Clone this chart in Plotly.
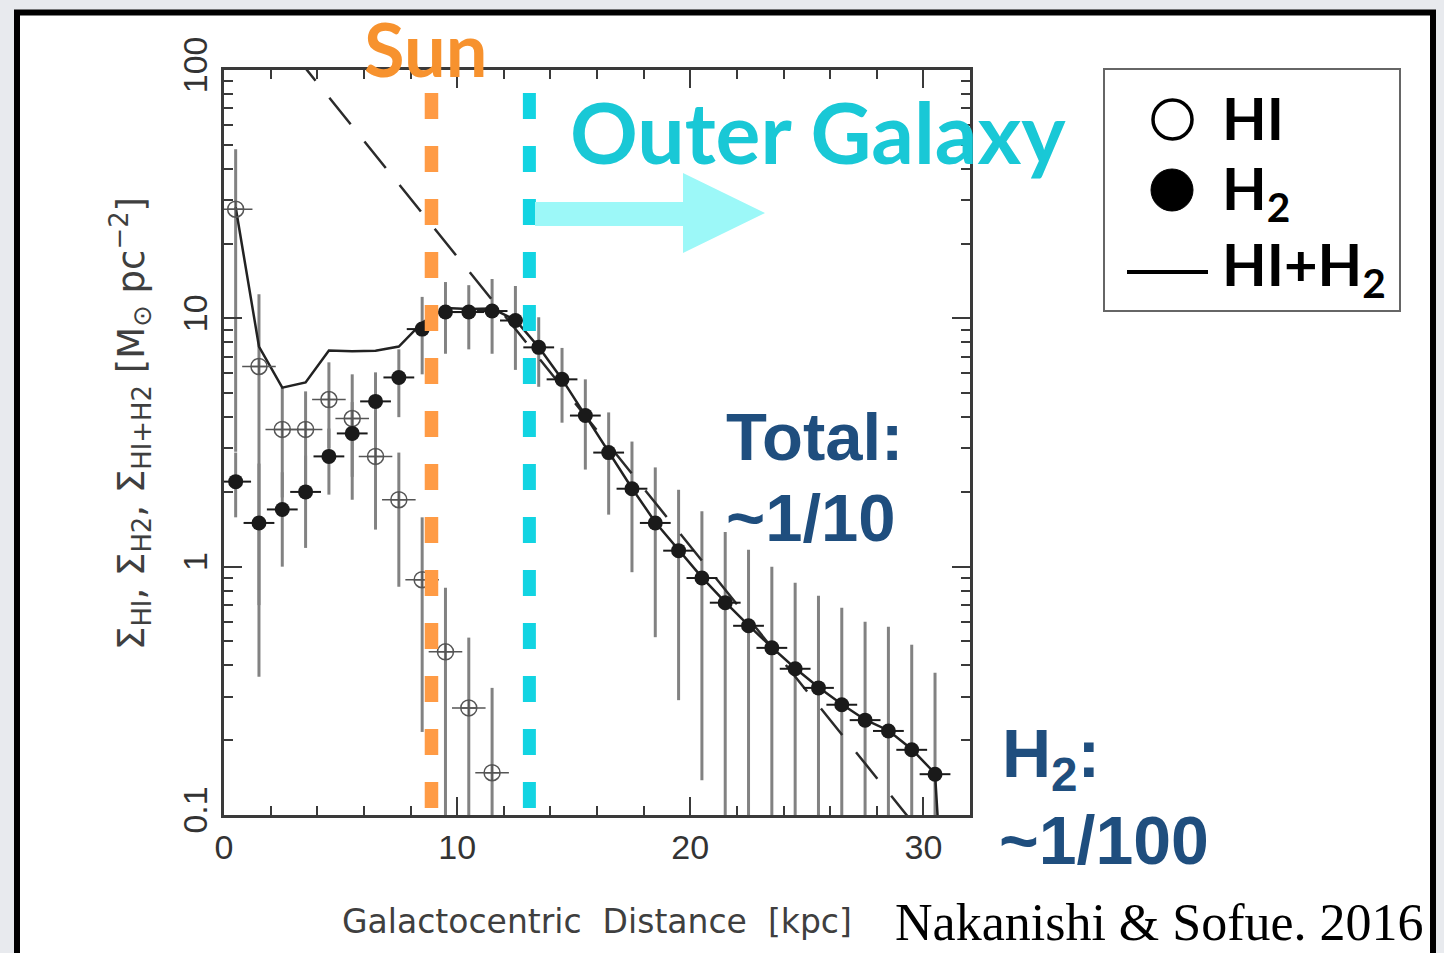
import plotly.graph_objects as go

# ---- radial profiles of gas surface density (Milky Way) ----
r_h2 = [0.5, 1.5, 2.5, 3.5, 4.5, 5.5, 6.5, 7.5, 8.5, 9.5, 10.5, 11.5, 12.5, 13.5, 14.5, 15.5,
        16.5, 17.5, 18.5, 19.5, 20.5, 21.5, 22.5, 23.5, 24.5, 25.5, 26.5, 27.5, 28.5, 29.5, 30.5]
sigma_h2 = [2.2, 1.5, 1.7, 2.0, 2.78, 3.44, 4.63, 5.78, 9.05, 10.6, 10.6, 10.7, 9.8, 7.64, 5.68, 4.06,
            2.88, 2.06, 1.50, 1.16, 0.90, 0.716, 0.578, 0.471, 0.388, 0.325, 0.278, 0.241, 0.218, 0.183, 0.146]
h2_lo = [1.58, 0.70, 1.0, 1.19, 1.95, 1.86, 3.2, 4.0, 5.95, 7.2, 7.5, 7.2, 6.2, 5.3, 3.8, 2.46,
         1.62, 0.95, 0.52, 0.29, 0.138, 0.05, 0.05, 0.05, 0.05, 0.05, 0.05, 0.05, 0.05, 0.05, 0.05]
h2_hi = [2.88, 2.6, 2.4, 2.8, 3.6, 4.6, 6.06, 7.5, 12.2, 14.0, 13.6, 14.4, 13.5, 10.1, 7.6, 5.68,
         4.18, 3.19, 2.51, 2.04, 1.67, 1.38, 1.17, 1.0, 0.862, 0.764, 0.683, 0.60, 0.573, 0.485, 0.374]

r_hi = [0.5, 1.5, 2.5, 3.5, 4.5, 5.5, 6.5, 7.5, 8.5, 9.5, 10.5, 11.5]
sigma_hi = [27.5, 6.4, 3.57, 3.57, 4.71, 3.95, 2.78, 1.86, 0.886, 0.454, 0.27, 0.148]
hi_lo = [2.9, 0.36, 1.9, 2.0, 3.0, 2.3, 1.41, 0.83, 0.216, 0.05, 0.05, 0.05]
hi_hi = [48.0, 12.5, 5.27, 5.08, 6.65, 5.95, 4.2, 2.88, 1.58, 0.823, 0.518, 0.325]

r_total = [0.5, 1.5, 2.5, 3.5, 4.5, 5.5, 6.5, 7.5, 8.5, 9.5, 10.5, 11.5, 12.5, 13.5, 14.5, 15.5,
           16.5, 17.5, 18.5, 19.5, 20.5, 21.5, 22.5, 23.5, 24.5, 25.5, 26.5, 27.5, 28.5, 29.5, 30.5, 30.75]
sigma_total = [28.0, 7.7, 5.26, 5.52, 7.42, 7.37, 7.4, 7.7, 9.6, 11.0, 10.9, 10.95, 9.85, 7.66, 5.69, 4.07,
               2.89, 2.07, 1.51, 1.17, 0.905, 0.72, 0.58, 0.473, 0.39, 0.327, 0.279, 0.242, 0.219, 0.184, 0.147, 0.06]

# exponential disk fit (straight in log space), given by its end points
r_fit = [0.0, 31.0]
sigma_fit = [260.0, 0.063]

x_ticks = [0, 10, 20, 30]
x_minor = [2, 4, 6, 8, 12, 14, 16, 18, 22, 24, 26, 28, 32]
y_ticks = [0.1, 1, 10, 100]
y_ticktext = ["0.1", "1", "10", "100"]
y_minor = [m * d for d in (0.1, 1, 10) for m in range(2, 10)]

r_sun = 8.9
r_outer = 13.1

# ---- page geometry (pixels) ----
W, H = 1444, 953
PL, PR, PT, PB = 224, 970, 70, 815


def px(x):
    return (x - PL) / (PR - PL)


def py(y):
    return (PB - y) / (PB - PT)


def bars(xs, lo, hi):
    bx, by = [], []
    for x, a, b in zip(xs, lo, hi):
        bx += [x, x, None]
        by += [a, b, None]
    return bx, by


fig = go.Figure()

ebx, eby = bars(r_hi + r_h2, hi_lo + h2_lo, hi_hi + h2_hi)
fig.add_trace(go.Scatter(x=ebx, y=eby, mode="lines",
                         line=dict(color="#828282", width=3), hoverinfo="skip"))

fig.add_trace(go.Scatter(x=r_fit, y=sigma_fit, mode="lines",
                         line=dict(color="#2b2b2b", width=2.5, dash="34px,22px")))

fig.add_trace(go.Scatter(x=r_total, y=sigma_total, mode="lines",
                         line=dict(color="#222222", width=2.5)))

# HI: open circles with a cross
fig.add_trace(go.Scatter(x=r_hi, y=sigma_hi, mode="markers",
                         marker=dict(symbol="line-ew", size=24, color="#555555",
                                     line=dict(color="#555555", width=1.5))))
fig.add_trace(go.Scatter(x=r_hi, y=sigma_hi, mode="markers",
                         marker=dict(symbol="circle-cross-open", size=16, color="#555555",
                                     line=dict(color="#555555", width=1.5))))

# H2: filled circles
fig.add_trace(go.Scatter(x=r_h2, y=sigma_h2, mode="markers",
                         marker=dict(symbol="line-ew", size=22, color="#1a1a1a",
                                     line=dict(color="#1a1a1a", width=2))))
fig.add_trace(go.Scatter(x=r_h2, y=sigma_h2, mode="markers",
                         marker=dict(symbol="circle", size=15, color="#1a1a1a",
                                     line=dict(width=0))))

axis_common = dict(showline=True, linecolor="#3a3a3a", linewidth=3, mirror="allticks",
                   ticks="inside", ticklen=18, tickwidth=2, tickcolor="#3a3a3a",
                   showgrid=False, zeroline=False,
                   tickfont=dict(family="Liberation Sans", size=34, color="#333333"))

fig.update_xaxes(range=[0, 32], tickmode="array", tickvals=x_ticks,
                 minor=dict(tickmode="array", tickvals=x_minor, ticks="inside",
                            ticklen=9, tickwidth=2, tickcolor="#3a3a3a", showgrid=False),
                 **axis_common)
fig.update_yaxes(type="log", range=[-1, 2], tickmode="array", tickvals=y_ticks,
                 ticktext=y_ticktext, tickangle=-90,
                 minor=dict(tickmode="array", tickvals=y_minor, ticks="inside",
                            ticklen=9, tickwidth=2, tickcolor="#3a3a3a", showgrid=False),
                 **axis_common)

shapes = [
    # slide frame
    dict(type="rect", xref="paper", yref="paper", x0=px(17), x1=px(1433), y0=py(H + 20), y1=py(12.5),
         line=dict(color="black", width=6), fillcolor="white", layer="below"),
    # Sun and outer-galaxy boundaries
    dict(type="line", xref="x", yref="paper", x0=r_sun, x1=r_sun, y0=py(93), y1=py(815),
         line=dict(color="#ff9b45", width=13.5, dash="26px,27px"), layer="above"),
    dict(type="line", xref="x", yref="paper", x0=r_outer, x1=r_outer, y0=py(93), y1=py(815),
         line=dict(color="#12d4e2", width=13, dash="26px,27px"), layer="above"),
    # arrow pointing to the outer galaxy
    dict(type="path", xref="paper", yref="paper",
         path=(f"M {px(535)},{py(202)} L {px(683)},{py(202)} L {px(683)},{py(173)} "
               f"L {px(765)},{py(213)} L {px(683)},{py(253)} L {px(683)},{py(226)} "
               f"L {px(535)},{py(226)} Z"),
         fillcolor="#9cf8f8", line=dict(width=0), layer="above"),
    # legend box
    dict(type="rect", xref="paper", yref="paper", x0=px(1104), x1=px(1400), y0=py(311), y1=py(69),
         line=dict(color="#666666", width=2), fillcolor="white", layer="above"),
    dict(type="circle", xref="paper", yref="paper", x0=px(1153), x1=px(1192), y0=py(139), y1=py(100),
         line=dict(color="black", width=3.5), fillcolor="white", layer="above"),
    dict(type="circle", xref="paper", yref="paper", x0=px(1151), x1=px(1193), y0=py(211), y1=py(169),
         line=dict(color="black", width=1), fillcolor="black", layer="above"),
    dict(type="line", xref="paper", yref="paper", x0=px(1127), x1=px(1208), y0=py(272), y1=py(272),
         line=dict(color="black", width=4), layer="above"),
]


def note(text, x, y, size, color, family, xanchor="left", angle=0):
    return dict(text=text, xref="paper", yref="paper", x=px(x), y=py(y), showarrow=False,
                xanchor=xanchor, yanchor="middle", textangle=angle,
                font=dict(family=family, size=size, color=color))


BOLD = "Liberation Sans"
annotations = [
    note("<b>Sun</b>", 425, 48, 74, "#f7922e", "Lato", xanchor="center"),
    note("<b>Outer Galaxy</b>", 818, 132, 84, "#19c8d6", "Lato", xanchor="center"),
    note("<b>Total:</b>", 724, 436, 67, "#1f4e7e", BOLD),
    note("<b>~1/10</b>", 724, 517, 67, "#1f4e7e", BOLD),
    note("<b>H<sub>2</sub>:</b>", 1000, 758, 68, "#1f4e7e", BOLD),
    note("<b>~1/100</b>", 997, 840, 68, "#1f4e7e", BOLD),
    note("<b>HI</b>", 1220, 118, 58, "black", "Lato"),
    note("<b>H<sub>2</sub></b>", 1220, 192, 58, "black", "Lato"),
    note("<b>HI+H<sub>2</sub></b>", 1220, 268, 58, "black", "Lato"),
    note("Galactocentric  Distance  [kpc]", 597, 921, 33, "#3f3f3f", "DejaVu Sans", xanchor="center"),
    note("Σ<sub>HI</sub>, Σ<sub>H2</sub>, Σ<sub>HI+H2</sub> [M<sub>⊙</sub> pc<sup>−2</sup>]",
         130, 424, 37, "#3f3f3f", "DejaVu Sans", xanchor="center", angle=-90),
    note("Nakanishi &amp; Sofue. 2016", 893, 922, 52, "black", "Liberation Serif"),
]

fig.update_layout(
    width=W, height=H, autosize=False,
    margin=dict(l=PL, r=W - PR, t=PT, b=H - PB, pad=0),
    paper_bgcolor="#e8eaee", plot_bgcolor="rgba(0,0,0,0)",
    showlegend=False, shapes=shapes, annotations=annotations,
)

fig.write_html("out.html")
